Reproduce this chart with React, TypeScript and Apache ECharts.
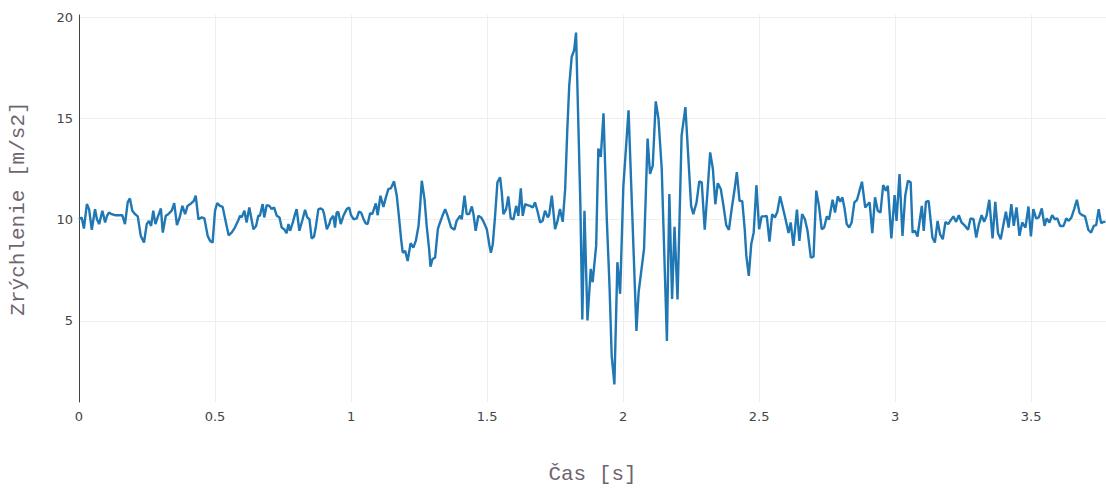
import React, { useEffect, useRef } from "react";
import * as echarts from "echarts";

const timeS: number[] = [
  0.000, 0.010, 0.018, 0.029, 0.037, 0.047, 0.059, 0.066, 0.074, 0.086, 0.096, 0.103, 0.110, 0.120, 0.132, 0.147, 0.159, 0.169, 0.179, 0.187,
  0.196, 0.206, 0.216, 0.227, 0.239, 0.249, 0.257, 0.265, 0.273, 0.281, 0.289, 0.301, 0.308, 0.319, 0.328, 0.341, 0.350, 0.360, 0.370, 0.380,
  0.390, 0.399, 0.412, 0.422, 0.429, 0.439, 0.451, 0.461, 0.473, 0.482, 0.491, 0.500, 0.508, 0.518, 0.528, 0.540, 0.550, 0.561, 0.573, 0.586,
  0.592, 0.598, 0.608, 0.616, 0.626, 0.641, 0.651, 0.659, 0.665, 0.675, 0.681, 0.690, 0.700, 0.708, 0.717, 0.727, 0.737, 0.745, 0.754, 0.763,
  0.770, 0.776, 0.786, 0.794, 0.800, 0.810, 0.822, 0.831, 0.839, 0.847, 0.855, 0.864, 0.871, 0.880, 0.889, 0.896, 0.901, 0.911, 0.920, 0.925,
  0.935, 0.941, 0.947, 0.953, 0.962, 0.972, 0.984, 0.993, 1.000, 1.009, 1.021, 1.029, 1.037, 1.045, 1.053, 1.061, 1.070, 1.078, 1.091, 1.098,
  1.108, 1.119, 1.128, 1.137, 1.147, 1.158, 1.168, 1.177, 1.184, 1.190, 1.199, 1.208, 1.219, 1.229, 1.238, 1.248, 1.254, 1.260, 1.270, 1.278,
  1.287, 1.292, 1.299, 1.309, 1.319, 1.327, 1.336, 1.346, 1.355, 1.368, 1.380, 1.388, 1.401, 1.407, 1.417, 1.425, 1.434, 1.444, 1.450, 1.458,
  1.468, 1.478, 1.487, 1.499, 1.509, 1.514, 1.521, 1.529, 1.538, 1.548, 1.554, 1.560, 1.570, 1.578, 1.587, 1.597, 1.607, 1.615, 1.624, 1.631,
  1.640, 1.648, 1.658, 1.668, 1.676, 1.685, 1.695, 1.704, 1.713, 1.723, 1.728, 1.738, 1.750, 1.759, 1.768, 1.778, 1.787, 1.795, 1.802, 1.811,
  1.820, 1.827, 1.835, 1.843, 1.850, 1.858, 1.869, 1.881, 1.888, 1.901, 1.909, 1.918, 1.928, 1.940, 1.950, 1.958, 1.968, 1.979, 1.989, 2.001,
  2.020, 2.049, 2.057, 2.077, 2.090, 2.099, 2.109, 2.120, 2.130, 2.142, 2.161, 2.170, 2.180, 2.189, 2.200, 2.215, 2.229, 2.250, 2.258, 2.270,
  2.280, 2.289, 2.300, 2.310, 2.320, 2.330, 2.339, 2.348, 2.359, 2.369, 2.379, 2.389, 2.399, 2.410, 2.418, 2.428, 2.438, 2.447, 2.453, 2.462,
  2.471, 2.480, 2.490, 2.500, 2.509, 2.519, 2.528, 2.538, 2.548, 2.558, 2.567, 2.577, 2.587, 2.597, 2.608, 2.616, 2.626, 2.639, 2.648, 2.658,
  2.668, 2.678, 2.690, 2.700, 2.710, 2.720, 2.730, 2.739, 2.749, 2.757, 2.770, 2.779, 2.789, 2.798, 2.806, 2.814, 2.822, 2.831, 2.840, 2.850,
  2.860, 2.870, 2.878, 2.890, 2.900, 2.906, 2.916, 2.926, 2.936, 2.946, 2.956, 2.966, 2.973, 2.986, 2.998, 3.005, 3.016, 3.027, 3.037, 3.047,
  3.057, 3.064, 3.073, 3.082, 3.098, 3.105, 3.113, 3.123, 3.137, 3.146, 3.156, 3.165, 3.175, 3.185, 3.195, 3.205, 3.214, 3.224, 3.234, 3.244,
  3.257, 3.268, 3.277, 3.288, 3.298, 3.307, 3.318, 3.327, 3.336, 3.346, 3.358, 3.368, 3.378, 3.388, 3.397, 3.407, 3.417, 3.427, 3.436, 3.446,
  3.457, 3.467, 3.479, 3.490, 3.499, 3.508, 3.518, 3.528, 3.539, 3.549, 3.557, 3.567, 3.577, 3.587, 3.596, 3.606, 3.619, 3.629, 3.638, 3.648,
  3.658, 3.668, 3.678, 3.688, 3.698, 3.710, 3.720, 3.730, 3.739, 3.748, 3.757, 3.766, 3.773,
];

const accel: number[] = [
  10.02, 10.11, 9.56, 10.77, 10.52, 9.50, 10.52, 10.02, 9.78, 10.44, 9.86, 10.19, 10.35, 10.27, 10.22, 10.22, 10.22, 9.78, 10.85, 11.05,
  10.44, 10.27, 10.16, 9.20, 8.87, 9.78, 9.94, 9.69, 10.44, 9.78, 10.11, 10.55, 9.36, 10.19, 10.27, 10.44, 10.82, 9.73, 10.11, 10.68,
  10.27, 10.68, 10.80, 10.93, 11.18, 10.02, 10.11, 10.06, 9.20, 8.95, 8.87, 10.44, 10.82, 10.68, 10.63, 9.86, 9.23, 9.36, 9.61, 9.98,
  10.19, 10.11, 10.44, 9.86, 10.60, 9.53, 9.69, 10.19, 10.19, 10.77, 10.11, 10.72, 10.68, 10.52, 10.60, 10.19, 10.11, 9.61, 9.53, 9.33,
  9.78, 9.45, 9.86, 10.27, 10.52, 9.45, 10.02, 10.49, 10.11, 10.02, 9.07, 9.17, 9.69, 10.52, 10.55, 10.49, 10.27, 9.53, 9.78, 10.02,
  10.19, 9.61, 10.35, 10.39, 9.78, 10.19, 10.52, 10.60, 10.22, 10.02, 10.06, 10.39, 10.35, 10.06, 9.83, 9.78, 10.32, 10.27, 10.80, 10.22,
  11.18, 10.63, 11.10, 11.51, 11.56, 11.89, 11.18, 10.02, 9.03, 8.37, 8.46, 7.96, 8.84, 8.62, 8.95, 9.69, 10.68, 11.92, 11.01, 9.69,
  8.54, 7.68, 8.04, 8.13, 9.53, 9.86, 10.19, 10.52, 10.19, 9.61, 9.50, 9.94, 10.19, 10.02, 11.18, 10.27, 10.27, 10.65, 10.27, 9.45,
  10.19, 10.11, 9.90, 9.53, 8.70, 8.37, 8.79, 10.11, 11.84, 12.09, 11.35, 10.27, 10.52, 11.15, 10.06, 10.02, 10.68, 10.19, 11.54, 10.19,
  10.77, 10.72, 10.68, 10.60, 10.85, 10.44, 9.86, 9.94, 10.44, 10.11, 10.22, 11.18, 9.53, 9.94, 10.52, 9.89, 11.50, 14.48, 16.62, 18.03,
  18.36, 19.23, 14.98, 10.68, 5.07, 10.44, 5.02, 7.57, 6.91, 8.73, 13.51, 13.10, 15.25, 10.04, 6.74, 3.28, 1.87, 7.90, 6.34, 11.67,
  15.40, 4.51, 6.41, 8.56, 14.00, 12.26, 12.67, 15.84, 14.98, 12.50, 4.01, 11.26, 6.08, 9.65, 6.06, 14.15, 15.55, 10.68, 10.27, 10.85,
  11.89, 11.84, 9.50, 11.34, 13.32, 12.50, 10.76, 11.80, 11.51, 10.68, 9.73, 9.50, 10.52, 11.51, 12.34, 10.93, 10.91, 9.53, 8.21, 7.22,
  8.79, 9.37, 11.70, 9.53, 10.16, 10.16, 10.19, 8.91, 10.27, 10.11, 10.39, 11.15, 10.60, 10.03, 9.34, 9.86, 8.70, 10.49, 8.95, 10.27,
  10.03, 9.45, 8.13, 8.18, 11.43, 10.68, 9.53, 9.61, 10.16, 10.00, 10.98, 10.35, 11.15, 10.88, 11.10, 10.55, 9.78, 9.61, 9.86, 10.85,
  10.98, 11.48, 11.87, 10.60, 10.77, 10.85, 9.33, 11.10, 10.44, 10.35, 11.71, 11.43, 11.67, 9.07, 11.21, 9.94, 12.25, 9.20, 11.18, 11.92,
  11.84, 9.36, 9.45, 9.17, 10.68, 9.45, 10.88, 10.93, 9.12, 8.87, 9.94, 9.28, 9.03, 9.89, 9.78, 9.99, 10.16, 9.89, 10.22, 9.86,
  9.69, 9.50, 10.06, 10.02, 9.12, 9.73, 10.22, 9.89, 10.19, 10.98, 9.07, 10.88, 9.33, 9.03, 9.69, 10.39, 9.61, 10.77, 9.69, 10.60,
  9.20, 9.86, 9.61, 10.65, 9.17, 10.52, 10.06, 10.11, 10.55, 9.69, 10.06, 9.86, 10.22, 10.02, 10.06, 9.69, 9.69, 10.06, 9.94, 10.11,
  10.52, 10.98, 10.32, 10.22, 10.16, 9.50, 9.36, 9.69, 9.73, 10.52, 9.83, 9.89, 9.89,
];

const xTicks: number[] = [0, 0.5, 1, 1.5, 2, 2.5, 3, 3.5];
const yTicks: number[] = [5, 10, 15, 20];
const xTitle = "Čas [s]";
const yTitle = "Zrýchlenie [m/s2]";

export default function App() {
  const ref = useRef<HTMLDivElement>(null);
  useEffect(() => {
    document.body.style.margin = "0";
    if (!ref.current) return;
    const chart = echarts.init(ref.current, undefined, { renderer: "svg" });
    const data = timeS.map((t, i) => [t, accel[i]]);
    const tickFont = { color: "#444", fontFamily: "DejaVu Sans", fontSize: 13 };
    const titleFont = { color: "#6f6470", fontFamily: "Liberation Mono", fontSize: 21 };
    chart.setOption({
      animation: false,
      backgroundColor: "#ffffff",
      grid: { left: 79, right: 0, top: 15, bottom: 87 },
      xAxis: {
        type: "value",
        min: 0,
        max: 3.775,
        interval: 0.5,
        name: xTitle,
        nameLocation: "middle",
        nameGap: 62,
        nameTextStyle: titleFont,
        axisLine: { show: false },
        axisTick: { show: false, customValues: xTicks },
        axisLabel: { ...tickFont, margin: 8, customValues: xTicks },
        splitLine: { show: true, lineStyle: { color: "#eeeeee", width: 1 } },
      },
      yAxis: {
        type: "value",
        min: 1.0,
        max: 20.1,
        interval: 5,
        name: yTitle,
        nameLocation: "middle",
        nameGap: 50,
        nameTextStyle: titleFont,
        axisLine: { show: true, lineStyle: { color: "#444444", width: 1 } },
        axisTick: { show: false, customValues: yTicks },
        axisLabel: { ...tickFont, margin: 6, customValues: yTicks },
        splitLine: { show: true, lineStyle: { color: "#eeeeee", width: 1 } },
      },
      series: [
        {
          type: "line",
          data,
          showSymbol: false,
          symbol: "none",
          lineStyle: { color: "#1f77b4", width: 2.4 },
          itemStyle: { color: "#1f77b4" },
        },
      ],
    });
    return () => chart.dispose();
  }, []);
  return <div ref={ref} style={{ width: 1106, height: 490 }} />;
}
